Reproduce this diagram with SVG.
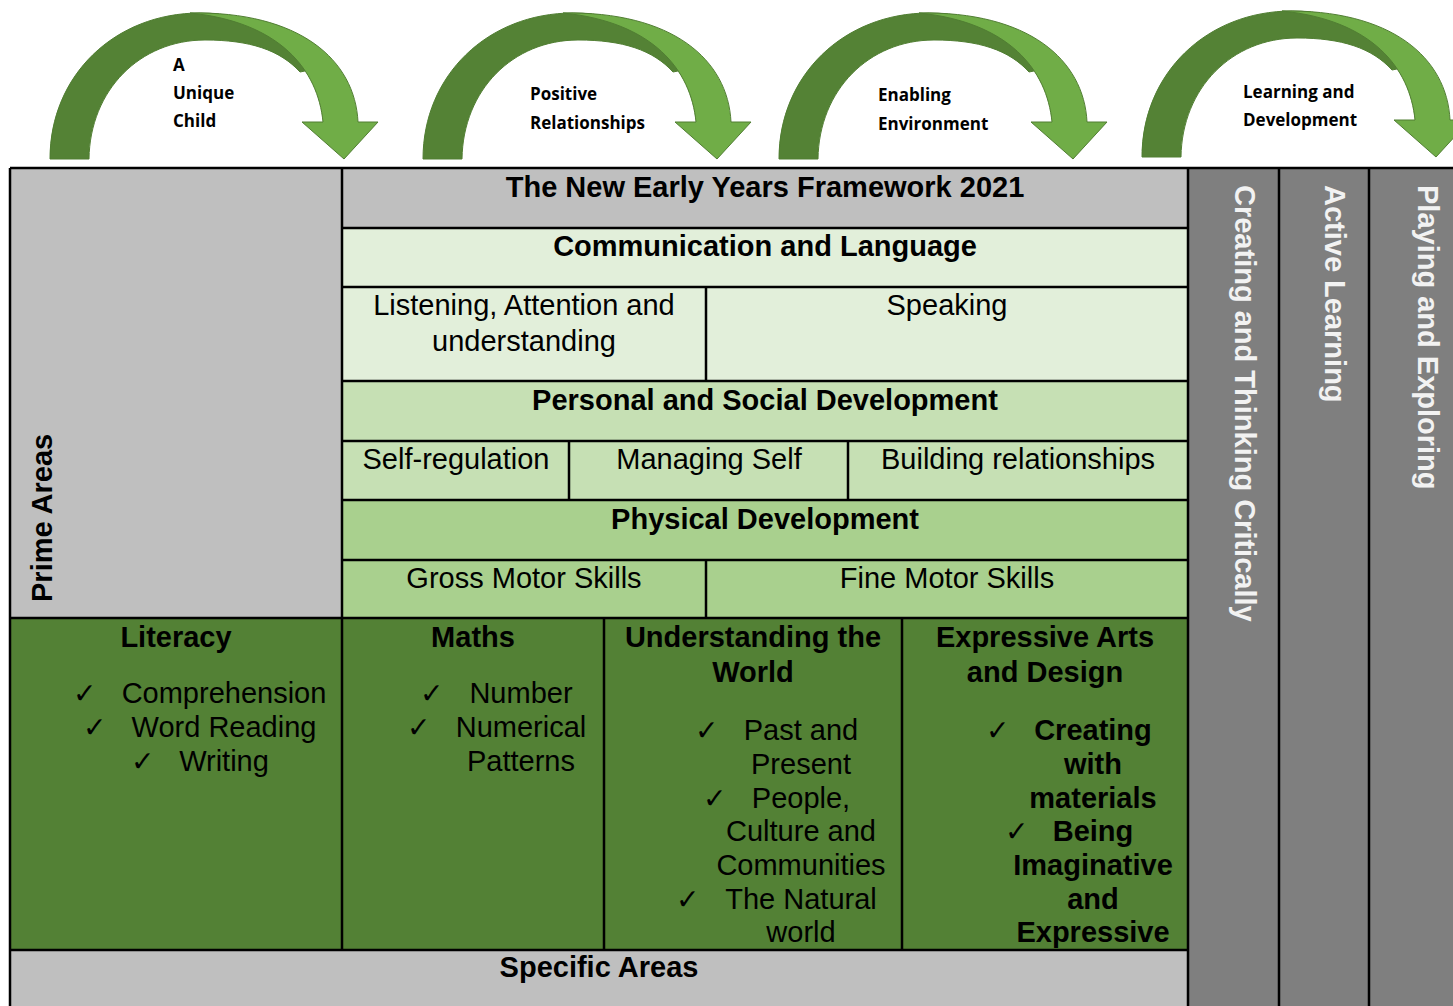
<svg xmlns="http://www.w3.org/2000/svg" width="1453" height="1006" viewBox="0 0 1453 1006">
<style>
.t{font-family:"Liberation Sans",Arial,sans-serif;font-size:29px;fill:#000}
.b{font-weight:bold}
.m{text-anchor:middle}
.w{fill:#f2f2f2;font-weight:bold}
.ck{font-family:"DejaVu Sans",sans-serif;font-size:28px;fill:#000}
.al{font-family:"Open Sans","Noto Sans",sans-serif;font-size:17px;font-weight:bold;fill:#000}
.ln{stroke:#000;stroke-width:2.5;fill:none}
.dk{fill:#548235;stroke:#507e32;stroke-width:1}
.lt{fill:#70ad47;stroke:#507e32;stroke-width:1}
</style>
<defs>
<g id="arrow">
<path class="dk" d="M50,159 C50,75 115,13 200,13 C250,13 290,35 310,70 L300,72 C280,50 250,40 205,40 C140,40 90,90 89,159 Z"/>
<path class="lt" d="M190,13 C300,11 355,60 358,122 L378,122 L344,159 L302,122 L323,122 C318,70 280,22 190,13 Z"/>
</g>
</defs>
<rect width="1453" height="1006" fill="#fff"/>
<g id="connectors">
<use href="#arrow"/>
<use href="#arrow" transform="translate(373,0)"/>
<use href="#arrow" transform="translate(729,0)"/>
<use href="#arrow" transform="translate(1092,-2)"/>
</g>
<g id="label-unique-child"><text class="al" x="173" y="71">A</text><text class="al" x="173" y="99">Unique</text><text class="al" x="173" y="127">Child</text></g>
<g id="label-positive-relationships"><text class="al" x="530" y="100">Positive</text><text class="al" x="530" y="129">Relationships</text></g>
<g id="label-enabling-environment"><text class="al" x="878" y="101">Enabling</text><text class="al" x="878" y="130">Environment</text></g>
<g id="label-learning-development"><text class="al" x="1243" y="98">Learning and</text><text class="al" x="1243" y="126">Development</text></g>

<g id="prime-areas"><rect x="10" y="168" width="332" height="450" fill="#bfbfbf"/><text class="t b" transform="translate(52,602) rotate(-90)">Prime Areas</text></g>
<g id="title"><rect x="342" y="168" width="846" height="60" fill="#bfbfbf"/><text class="t b m" x="765" y="197">The New Early Years Framework 2021</text></g>
<g id="communication"><rect x="342" y="228" width="846" height="59" fill="#e2efda"/><text class="t b m" x="765" y="256">Communication and Language</text></g>
<g id="listening"><rect x="342" y="287" width="364" height="94" fill="#e2efda"/><text class="t m" x="524" y="315">Listening, Attention and</text><text class="t m" x="524" y="351">understanding</text></g>
<g id="speaking"><rect x="706" y="287" width="482" height="94" fill="#e2efda"/><text class="t m" x="947" y="315">Speaking</text></g>
<g id="personal"><rect x="342" y="381" width="846" height="60" fill="#c6e0b4"/><text class="t b m" x="765" y="410">Personal and Social Development</text></g>
<g id="self-regulation"><rect x="342" y="441" width="227" height="59" fill="#c6e0b4"/><text class="t m" x="456" y="469">Self-regulation</text></g>
<g id="managing-self"><rect x="569" y="441" width="279" height="59" fill="#c6e0b4"/><text class="t m" x="709" y="469">Managing Self</text></g>
<g id="building-relationships"><rect x="848" y="441" width="340" height="59" fill="#c6e0b4"/><text class="t m" x="1018" y="469">Building relationships</text></g>
<g id="physical"><rect x="342" y="500" width="846" height="60" fill="#a9d08e"/><text class="t b m" x="765" y="529">Physical Development</text></g>
<g id="gross-motor"><rect x="342" y="560" width="364" height="58" fill="#a9d08e"/><text class="t m" x="524" y="588">Gross Motor Skills</text></g>
<g id="fine-motor"><rect x="706" y="560" width="482" height="58" fill="#a9d08e"/><text class="t m" x="947" y="588">Fine Motor Skills</text></g>

<g id="literacy"><rect x="10" y="618" width="332" height="332" fill="#538135"/>
<text class="t b m" x="176" y="647">Literacy</text>
<text class="ck" x="73" y="703">✓</text><text class="t m" x="224" y="703">Comprehension</text>
<text class="ck" x="83" y="737">✓</text><text class="t m" x="224" y="737">Word Reading</text>
<text class="ck" x="131" y="771">✓</text><text class="t m" x="224" y="771">Writing</text></g>
<g id="maths"><rect x="342" y="618" width="262" height="332" fill="#538135"/>
<text class="t b m" x="473" y="647">Maths</text>
<text class="ck" x="420" y="703">✓</text><text class="t m" x="521" y="703">Number</text>
<text class="ck" x="407" y="737">✓</text><text class="t m" x="521" y="737">Numerical</text>
<text class="t m" x="521" y="771">Patterns</text></g>
<g id="understanding-world"><rect x="604" y="618" width="298" height="332" fill="#538135"/>
<text class="t b m" x="753" y="647">Understanding the</text><text class="t b m" x="753" y="682">World</text>
<text class="ck" x="695" y="740">✓</text><text class="t m" x="801" y="740">Past and</text>
<text class="t m" x="801" y="774">Present</text>
<text class="ck" x="703" y="808">✓</text><text class="t m" x="801" y="808">People,</text>
<text class="t m" x="801" y="841">Culture and</text>
<text class="t m" x="801" y="875">Communities</text>
<text class="ck" x="676" y="909">✓</text><text class="t m" x="801" y="909">The Natural</text>
<text class="t m" x="801" y="942">world</text></g>
<g id="expressive-arts"><rect x="902" y="618" width="286" height="332" fill="#538135"/>
<text class="t b m" x="1045" y="647">Expressive Arts</text><text class="t b m" x="1045" y="682">and Design</text>
<text class="ck" x="986" y="740">✓</text><text class="t b m" x="1093" y="740">Creating</text>
<text class="t b m" x="1093" y="774">with</text>
<text class="t b m" x="1093" y="808">materials</text>
<text class="ck" x="1005" y="841">✓</text><text class="t b m" x="1093" y="841">Being</text>
<text class="t b m" x="1093" y="875">Imaginative</text>
<text class="t b m" x="1093" y="909">and</text>
<text class="t b m" x="1093" y="942">Expressive</text></g>
<g id="specific-areas"><rect x="10" y="950" width="1178" height="56" fill="#bfbfbf"/><text class="t b m" x="599" y="977">Specific Areas</text></g>

<g id="creating-thinking"><rect x="1188" y="168" width="91" height="838" fill="#7f7f7f"/><text class="t w" transform="translate(1235,185) rotate(90)">Creating and Thinking Critically</text></g>
<g id="active-learning"><rect x="1279" y="168" width="90" height="838" fill="#7f7f7f"/><text class="t w" transform="translate(1325,185) rotate(90)">Active Learning</text></g>
<g id="playing-exploring"><rect x="1369" y="168" width="84" height="838" fill="#7f7f7f"/><text class="t w" transform="translate(1418,185) rotate(90)">Playing and Exploring</text></g>

<g id="grid">
<path class="ln" d="M10,168 H1453 M10,168 V1006 M342,168 V950 M1188,168 V1006 M1279,168 V1006 M1369,168 V1006
M342,228 H1188 M342,287 H1188 M342,381 H1188 M342,441 H1188 M342,500 H1188 M342,560 H1188
M10,618 H1188 M10,950 H1188
M706,287 V381 M569,441 V500 M848,441 V500 M706,560 V618 M604,618 V950 M902,618 V950"/>
</g>
</svg>
